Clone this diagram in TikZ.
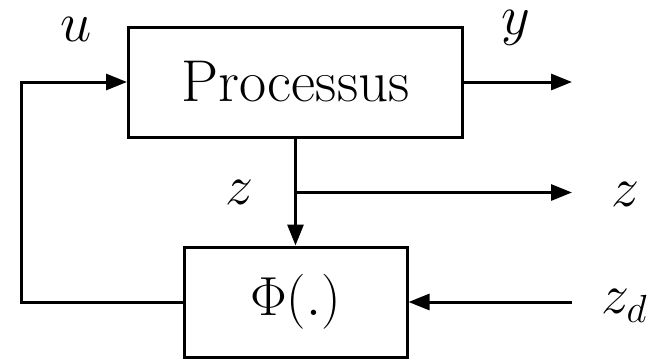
\documentclass[tikz,border=0pt]{standalone}
\usepackage{fix-cm}
\usetikzlibrary{arrows.meta}
\begin{document}
\begin{tikzpicture}[x=1pt,y=-1pt,
  every node/.style={font=\fontsize{56}{66}\selectfont},
  block/.style={draw,line width=3pt,inner sep=0pt},
  lbl/.style={inner sep=0pt},
  link/.style={line width=3pt},
  arr/.style={link,-{Triangle[length=21pt,width=16pt]}}]
\useasboundingbox (0,0) rectangle (653,359);
% blocks
\node[block,minimum width=334pt,minimum height=110pt,
      font=\fontsize{59}{70}\selectfont] (proc) at (295.5,82) {Processus};
\node[block,minimum width=223pt,minimum height=110pt,
      font=\fontsize{55}{66}\selectfont] (phi) at (295.5,302) {$\Phi(.)$};
% free ends and corners
\coordinate (yout) at (572,82);
\coordinate (zout) at (572,192.5);
\coordinate (zdin) at (572,302);
\coordinate (fbl) at (21,302);
\coordinate (fbu) at (21,82);
\coordinate (br) at (295.5,192.5);
% connectors
\draw[arr] (proc.east) -- (yout);
\draw[arr] (proc.south) -- (phi.north);
\draw[arr] (br) -- (zout);
\draw[arr] (zdin) -- (phi.east);
\draw[arr,line join=miter] (phi.west) -- (fbl) -- (fbu) -- (proc.west);
% labels
\node[lbl] (lu) at (76,29) {$u$};
\node[lbl] (ly) at (516,28) {$y$};
\node[lbl] (lz) at (239,192.5) {$z$};
\node[lbl] (lzr) at (625,194) {$z$};
\node[lbl] (lzd) at (624,306) {$z_d$};
\end{tikzpicture}
\end{document}
